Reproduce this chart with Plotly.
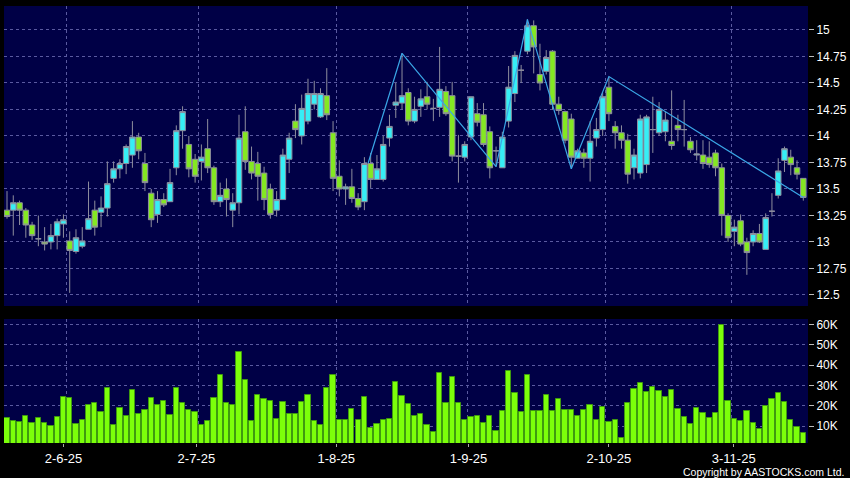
import plotly.graph_objects as go

# ---------------- data ----------------
opens = [13.30, 13.30, 13.37, 13.30, 13.16, 13.03, 13.00, 13.00, 13.06, 13.17,
         13.01, 12.91, 12.96, 13.12, 13.30, 13.28, 13.32, 13.60, 13.69, 13.74,
         13.82, 13.99, 13.74, 13.46, 13.26, 13.40, 13.38, 13.70, 14.05, 13.92,
         13.78, 13.76, 13.88, 13.70, 13.38, 13.50, 13.30, 13.37, 14.04, 13.76,
         13.74, 13.65, 13.50, 13.30, 13.40, 13.78, 14.14, 14.00, 14.14, 14.30,
         14.18, 14.38, 14.03, 13.62, 13.50, 13.52, 13.41, 13.38, 13.74, 13.59,
         13.59, 13.98, 14.29, 14.31, 14.41, 14.14, 14.28, 14.37, 14.26, 14.27,
         14.42, 14.38, 13.81, 13.80, 13.99, 14.21, 14.20, 14.04, 13.86, 13.70,
         14.14, 14.40, 14.62, 14.80, 15.04, 14.58, 14.61, 14.80, 14.30, 14.23,
         14.16, 13.79, 13.84, 13.79, 13.98, 14.06, 14.46, 14.09, 14.03, 13.96,
         13.70, 13.65, 13.73, 14.06, 14.03, 14.04, 13.95, 14.10, 14.06, 13.95,
         13.82, 13.82, 13.80, 13.84, 13.70, 13.25, 13.10, 13.20, 13.00, 13.00,
         13.08, 12.93, 13.29, 13.44, 13.77, 13.80, 13.70, 13.60]
highs = [13.48, 13.44, 13.39, 13.32, 13.19, 13.25, 13.14, 13.17, 13.22, 13.26,
         13.10, 13.12, 13.14, 13.57, 13.39, 13.43, 13.76, 13.76, 13.78, 13.92,
         14.14, 14.03, 13.84, 13.50, 13.48, 13.46, 13.69, 14.10, 14.28, 14.00,
         13.83, 13.92, 14.16, 13.72, 13.56, 13.60, 13.46, 14.20, 14.28, 13.90,
         13.85, 13.71, 13.55, 13.48, 13.88, 14.03, 14.30, 14.39, 14.54, 14.52,
         14.45, 14.64, 14.14, 13.77, 13.55, 13.69, 13.46, 13.80, 13.84, 13.82,
         14.00, 14.20, 14.50, 14.78, 14.45, 14.37, 14.44, 14.51, 14.35, 14.84,
         14.47, 14.51, 14.01, 13.95, 14.37, 14.31, 14.31, 14.09, 13.90, 14.04,
         14.66, 14.80, 14.67, 15.10, 15.09, 14.87, 14.81, 14.81, 14.37, 14.24,
         14.21, 13.88, 13.88, 14.14, 14.17, 14.41, 14.56, 14.14, 14.10, 14.02,
         13.88, 14.20, 14.20, 14.37, 14.32, 14.23, 14.43, 14.20, 14.34, 13.99,
         13.96, 13.96, 13.95, 13.87, 13.74, 13.27, 13.21, 13.26, 13.04, 13.11,
         13.17, 13.27, 13.46, 13.79, 13.90, 13.87, 13.77, 13.60]
lows = [13.22, 13.06, 13.16, 13.04, 13.02, 12.96, 12.92, 12.93, 12.93, 13.04,
        12.52, 12.89, 12.94, 13.12, 13.06, 13.14, 13.24, 13.56, 13.60, 13.64,
        13.70, 13.78, 13.48, 13.14, 13.18, 13.33, 13.38, 13.63, 13.88, 13.61,
        13.56, 13.58, 13.65, 13.35, 13.33, 13.24, 13.14, 13.26, 13.68, 13.59,
        13.39, 13.30, 13.22, 13.24, 13.40, 13.65, 13.98, 13.92, 14.11, 14.25,
        14.17, 14.15, 13.48, 13.43, 13.35, 13.37, 13.30, 13.30, 13.51, 13.59,
        13.57, 13.90, 14.17, 14.25, 14.10, 14.12, 14.18, 14.25, 14.14, 14.18,
        14.19, 13.76, 13.56, 13.76, 13.96, 14.09, 13.90, 13.60, 13.71, 13.70,
        14.08, 14.32, 14.50, 14.77, 14.59, 14.43, 14.58, 14.25, 14.20, 13.93,
        13.69, 13.79, 13.70, 13.57, 13.90, 14.00, 14.14, 13.88, 13.88, 13.55,
        13.59, 13.60, 13.65, 13.84, 14.00, 13.95, 13.87, 13.95, 13.90, 13.84,
        13.77, 13.69, 13.70, 13.62, 13.06, 13.00, 12.96, 12.96, 12.69, 12.96,
        12.99, 12.93, 13.24, 13.41, 13.66, 13.63, 13.59, 13.39]
closes = [13.24, 13.37, 13.30, 13.16, 13.06, 13.03, 12.98, 13.06, 13.19, 13.21,
          12.92, 13.04, 13.01, 13.22, 13.14, 13.32, 13.55, 13.69, 13.74, 13.90,
          13.99, 13.86, 13.56, 13.21, 13.40, 13.35, 13.56, 14.05, 14.23, 13.69,
          13.62, 13.80, 13.70, 13.38, 13.44, 13.40, 13.37, 13.98, 13.76, 13.65,
          13.62, 13.40, 13.26, 13.40, 13.82, 13.98, 14.06, 14.26, 14.40, 14.40,
          14.40, 14.20, 13.60, 13.50, 13.52, 13.41, 13.33, 13.74, 13.59, 13.69,
          13.92, 14.09, 14.32, 14.38, 14.14, 14.25, 14.35, 14.30, 14.26, 14.44,
          14.21, 13.81, 13.81, 13.92, 14.37, 14.13, 13.92, 13.70, 13.86, 13.99,
          14.46, 14.76, 14.62, 15.04, 14.84, 14.50, 14.74, 14.30, 14.24, 13.96,
          13.80, 13.86, 13.79, 13.95, 14.06, 14.37, 14.21, 14.03, 13.96, 13.64,
          13.82, 14.16, 14.18, 14.06, 14.25, 14.15, 13.91, 14.06, 14.06, 13.87,
          13.83, 13.74, 13.73, 13.70, 13.25, 13.04, 13.14, 12.98, 12.90, 13.08,
          13.00, 13.23, 13.29, 13.67, 13.88, 13.73, 13.64, 13.42]
volumes = [14.1, 12.3, 12.1, 15.2, 11.6, 13.9, 11.6, 10.0, 14.4, 24.3,
           23.8, 11.1, 13.1, 20.3, 21.6, 16.9, 28.9, 10.6, 19.0, 15.1,
           27.7, 16.1, 18.0, 23.9, 20.5, 22.3, 15.7, 29.0, 21.3, 18.0,
           16.9, 10.5, 12.6, 23.8, 35.4, 21.6, 20.3, 46.3, 32.8, 12.6,
           25.4, 23.4, 22.5, 13.6, 21.8, 16.2, 16.2, 22.0, 25.3, 12.3,
           10.8, 28.7, 35.3, 12.8, 12.8, 18.7, 13.1, 24.3, 9.2, 11.0,
           12.8, 13.6, 31.7, 24.8, 21.0, 14.9, 16.1, 10.8, 7.2, 36.4,
           21.5, 34.1, 21.3, 13.1, 14.4, 14.9, 11.5, 14.9, 7.7, 17.7,
           37.4, 26.4, 17.0, 35.3, 17.4, 17.6, 25.4, 17.6, 23.6, 18.0,
           18.0, 14.9, 18.0, 20.3, 13.1, 19.5, 12.0, 13.1, 4.4, 21.6,
           28.4, 31.3, 26.9, 29.4, 27.2, 24.6, 27.7, 18.5, 14.6, 11.3,
           19.0, 16.4, 14.1, 16.6, 59.9, 22.6, 13.6, 12.5, 17.4, 11.6,
           8.8, 20.1, 23.3, 26.1, 21.8, 12.8, 9.7, 6.7]  # thousands of shares

zigzag_idx = [57.6, 63, 78, 83, 90, 96, 127]
zigzag_price = [13.745, 14.78, 13.71, 15.10, 13.69, 14.56, 13.42]

date_labels = ['2-6-25', '2-7-25', '1-8-25', '1-9-25', '2-10-25', '3-11-25']
date_label_pos = [9, 30.2, 52.5, 73.6, 96, 115.9]
month_grid_pos = [9.5, 30.5, 52.5, 73.5, 95.5, 115.5]

price_ticks = [12.5, 12.75, 13, 13.25, 13.5, 13.75, 14, 14.25, 14.5, 14.75, 15]
price_tick_text = ['12.5', '12.75', '13', '13.25', '13.5', '13.75', '14', '14.25', '14.5', '14.75', '15']
vol_ticks = [10, 20, 30, 40, 50, 60]
vol_tick_text = ['10K', '20K', '30K', '40K', '50K', '60K']

# ---------------- figure ----------------
idx = list(range(len(closes)))

W, H = 850, 478
BG = '#000046'
GRID = '#5a5aa0'
CYAN = '#36eef5'
GREEN = '#84e822'
WICK = '#8e8e9e'
FONT = 'Liberation Sans, Arial, sans-serif'

fig = go.Figure()
fig.add_trace(go.Candlestick(
    x=idx, open=opens, high=highs, low=lows, close=closes,
    increasing=dict(fillcolor=CYAN, line=dict(color=WICK, width=1)),
    decreasing=dict(fillcolor=GREEN, line=dict(color=WICK, width=1)),
    whiskerwidth=0, xaxis='x', yaxis='y', showlegend=False, hoverinfo='skip'))
fig.add_trace(go.Scatter(
    x=zigzag_idx, y=zigzag_price, mode='lines',
    line=dict(color='#3aa6e6', width=1.2), xaxis='x', yaxis='y',
    showlegend=False, hoverinfo='skip'))
fig.add_trace(go.Bar(
    x=idx, y=volumes, width=0.84,
    marker=dict(color='#7cff0a', line=dict(color='#3f9a10', width=1)),
    xaxis='x2', yaxis='y2', showlegend=False, hoverinfo='skip'))

xdom = [4 / W, 808 / W]
xrange_ = [-0.48, 127.75]
grid_common = dict(showgrid=True, gridcolor=GRID, griddash='dot', gridwidth=1, zeroline=False)

fig.update_layout(
    width=W, height=H,
    margin=dict(l=0, r=0, t=0, b=0),
    paper_bgcolor='#000000', plot_bgcolor=BG,
    boxgap=0.12, boxgroupgap=0,
    bargap=0,
    font=dict(family=FONT, color='#ffffff', size=12),
    xaxis=dict(domain=xdom, range=xrange_, anchor='y', tickmode='array',
               tickvals=month_grid_pos, showticklabels=False, ticks='',
               rangeslider=dict(visible=False), fixedrange=True, **grid_common),
    yaxis=dict(domain=[(H - 306) / H, (H - 6) / H], range=[12.396, 15.226], side='right',
               anchor='x', tickmode='array', tickvals=price_ticks, ticktext=price_tick_text,
               ticks='outside', ticklen=5, tickcolor='#bbbbbb', tickwidth=1,
               tickfont=dict(size=12, color='#ffffff', family=FONT), **grid_common),
    xaxis2=dict(domain=xdom, range=xrange_, anchor='y2', tickmode='array',
                tickvals=date_label_pos, ticktext=date_labels, ticks='outside', ticklen=3,
                tickcolor='#aaaaaa', tickfont=dict(size=13, color='#ffffff', family=FONT),
                showgrid=False, zeroline=False,
                minor=dict(tickmode='array', tickvals=month_grid_pos, showgrid=True,
                           gridcolor=GRID, griddash='dot', gridwidth=1, ticks='')),
    yaxis2=dict(domain=[(H - 443) / H, (H - 319) / H], range=[1.7, 62.8], side='right',
                anchor='x2', tickmode='array', tickvals=vol_ticks, ticktext=vol_tick_text,
                ticks='outside', ticklen=5, tickcolor='#bbbbbb', tickwidth=1,
                tickfont=dict(size=12, color='#ffffff', family=FONT), **grid_common),
    annotations=[dict(text='Copyright by AASTOCKS.com Ltd.', xref='paper', yref='paper',
                      x=846 / W, y=(H - 472) / H, xanchor='right', yanchor='middle',
                      showarrow=False, font=dict(size=10.5, color='#ffffff', family=FONT))],
)

fig.write_html('out.html', config={'displayModeBar': False},
               post_script="document.body.style.margin='0';document.body.style.overflow='hidden';")
